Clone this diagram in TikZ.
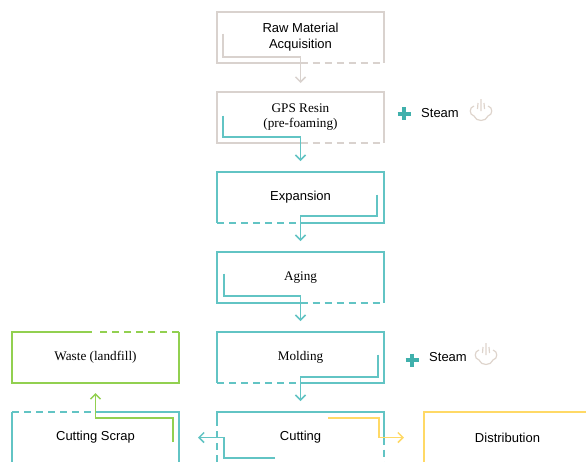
\documentclass[tikz,border=0pt]{standalone}
\usepackage{fontspec}
\setmainfont{Liberation Serif}
\setsansfont{Liberation Sans}
\usetikzlibrary{arrows.meta,calc,positioning}

\definecolor{flowteal}{RGB}{98,196,196}
\definecolor{flowgray}{RGB}{217,210,206}
\definecolor{flowgreen}{RGB}{146,208,80}
\definecolor{flowyellow}{RGB}{255,217,102}
\definecolor{plusteal}{RGB}{64,176,172}
\definecolor{steamgray}{RGB}{222,212,204}

\begin{document}
\begin{tikzpicture}[x=1pt,y=-1pt,line width=1.5pt,
    >={Straight Barb[length=5pt,width=10pt]},node distance=29pt,
    stage/.style={minimum width=167pt,minimum height=51pt,inner sep=0pt,outer sep=0pt,align=center},
    sans text/.style={font=\sffamily\fontsize{13}{16}\selectfont},
    serif text/.style={font=\fontsize{13.2}{15}\selectfont},
    broken/.style={dash pattern=on 7pt off 5pt},
    plus sign/.style={plusteal,line width=4pt},
    steam/.pic={
      \draw[steamgray,line width=1.2pt] (-7,-5) .. controls (-12,-4) and (-12,4) .. (-7,5)
        .. controls (-5,11) and (5,11) .. (7,5)
        .. controls (12,4) and (12,-4) .. (7,-5);
      \draw[steamgray,line width=1.2pt] (-3.5,-2) -- (-3,-8) (0,0) -- (0,-12) (3.5,-2) -- (3,-8);
    }]

    \useasboundingbox (0,0) rectangle (586,461);
    \clip (0,0) rectangle (586,461);

    \node[stage,sans text] (1) at (300.5,37.5) {Raw Material\\Acquisition};
    \node[stage,serif text] (2) [below=of 1] {GPS Resin\\(pre-foaming)};
    \node[stage,sans text] (3) [below=of 2] {Expansion};
    \node[stage,serif text] (4) [below=of 3] {Aging};
    \node[stage,serif text] (5) [below=of 4] {Molding};
    \node[stage,sans text] (6) [below=of 5] {Cutting};
    \node[stage,sans text] (7) [right=40pt of 6] {Distribution};
    \node[stage,serif text] (8) [left=38pt of 5] {Waste (landfill)};
    \node[stage,sans text] (9) [left=38pt of 6] {Cutting Scrap};

    % steam inputs
    \coordinate (10) at (404,113.5);
    \node[sans text] (11) at (440,113) {Steam};
    \pic at (481,111) {steam};
    \coordinate (12) at (412,360);
    \node[sans text] (13) at (448,357) {Steam};
    \pic at (486,355) {steam};
    \draw[plus sign] ($(10)+(-6.5,0)$) -- ($(10)+(6.5,0)$) ($(10)+(0,-6.5)$) -- ($(10)+(0,6.5)$);
    \draw[plus sign] ($(12)+(-6.5,0)$) -- ($(12)+(6.5,0)$) ($(12)+(0,-6.5)$) -- ($(12)+(0,6.5)$);

    % box outlines
    \draw[flowgray] (1.south) -- (1.south west) |- (1.north east) -- (1.south east);
    \draw[flowgray,broken] (1.south) -- (1.south east);
    \draw[flowgray] (2.south) -- (2.south west) |- (2.north east) -- (2.south east);
    \draw[flowgray,broken] (2.south) -- (2.south east);
    \draw[flowteal] (3.south) -- (3.south east) |- (3.north west) -- (3.south west);
    \draw[flowteal,broken] (3.south west) -- (3.south);
    \draw[flowteal] (4.south) -- (4.south west) |- (4.north east) -- (4.south east);
    \draw[flowteal,broken] (4.south) -- (4.south east);
    \draw[flowteal] (5.south) -- (5.south east) |- (5.north west) -- (5.south west);
    \draw[flowteal,broken] (5.south west) -- (5.south);
    \draw[flowteal] ($(6.north west)+(0,7)$) -- (6.north west) -- (6.north east) -- (6.east);
    \draw[flowteal,broken] ($(6.north west)+(0,7)$) -- (6.south west);
    \draw[flowteal,broken] (6.east) -- (6.south east);
    \draw[flowyellow] (7.south west) -- (7.north west) -- (7.north east) -- (7.south east);
    \draw[flowgreen] ($(8.north)+(-4,0)$) -- (8.north west) -- (8.south west) -- (8.south east) -- (8.north east);
    \draw[flowgreen,broken] (8.north east) -- ($(8.north)+(1,0)$);
    \draw[flowteal] (9.north) -- (9.north east) -- (9.south east);
    \draw[flowteal] (9.north west) -- (9.south west);
    \draw[flowteal,broken] (9.north west) -- (9.north);

    % flow arrows
    \draw[flowgray,->] ($(1.west)+(6,-4)$) |- ($(1.south)+(0,-6)$) -- ($(2.north)+(0,-9)$);
    \draw[flowteal,->] ($(2.west)+(6,-2)$) |- ($(2.south)+(0,-6)$) -- ($(3.north)+(0,-11)$);
    \draw[flowteal,->] ($(3.east)+(-7,-3)$) |- ($(3.south)+(0,-7)$) -- ($(4.north)+(0,-11)$);
    \draw[flowteal,->] ($(4.west)+(7,-4)$) |- ($(4.south)+(0,-7)$) -- ($(5.north)+(0,-11)$);
    \draw[flowteal,->] ($(5.east)+(-6,-3)$) |- ($(5.south)+(0,-6)$) -- ($(6.north)+(0,-11)$);
    \draw[flowyellow,->] ($(6.north east)+(-56,6)$) -| ($(6.east)+(-5,0)$) -- ($(7.west)+(-20,0)$);
    \draw[flowteal,->] ($(6.south west)+(58,-5)$) -| ($(6.west)+(7,0)$) -- ($(9.east)+(19,0)$);
    \draw[flowgreen,->] ($(9.north east)+(-6,30)$) |- ($(9.north)+(0,6)$) -- ($(8.south)+(0,10)$);
\end{tikzpicture}
\end{document}
